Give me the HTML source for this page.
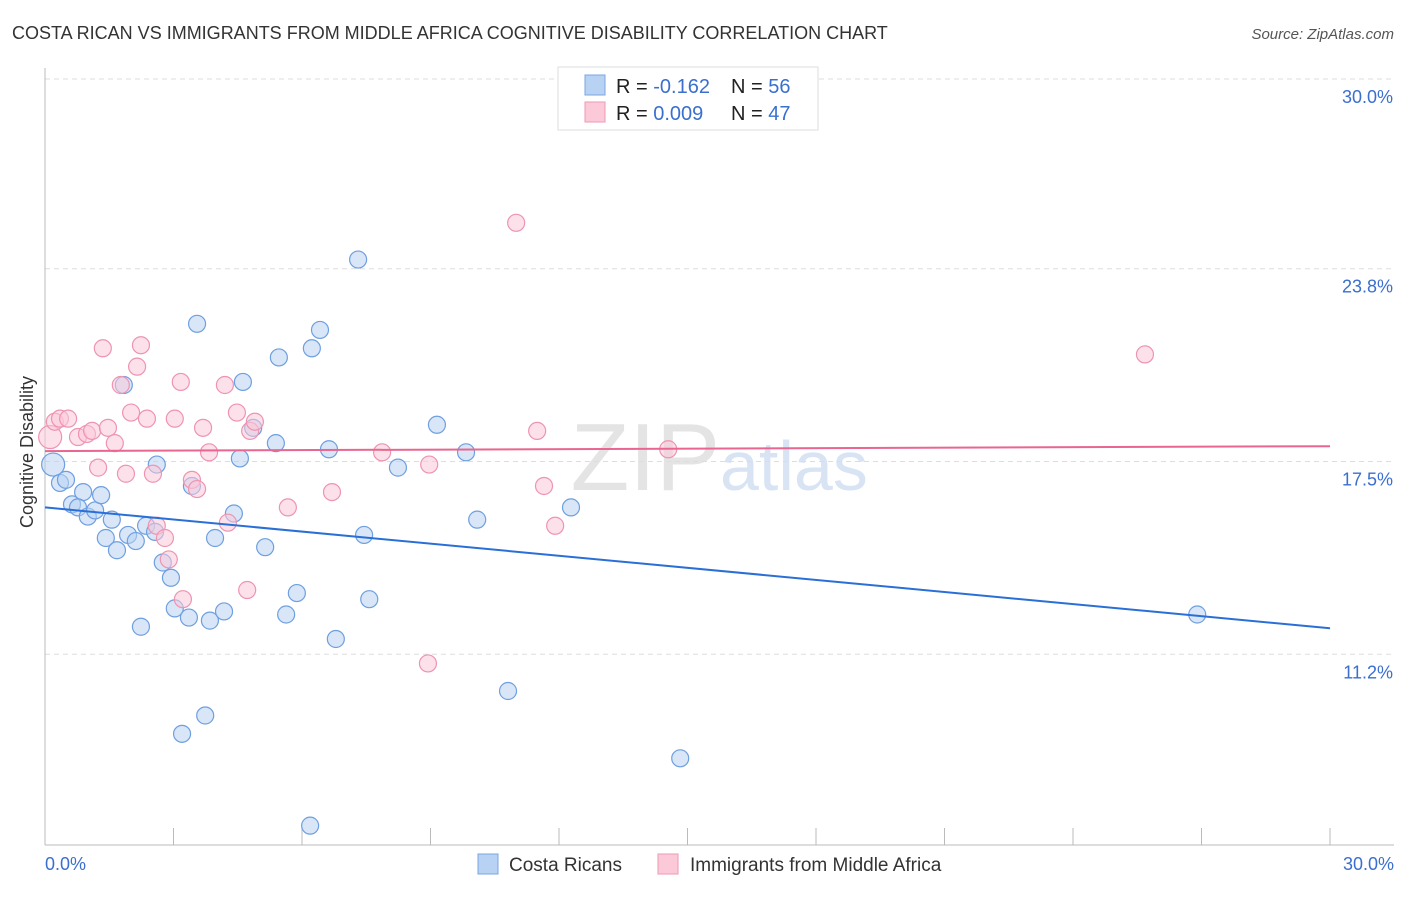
<!DOCTYPE html>
<html><head><meta charset="utf-8"><style>
body{margin:0;background:#fff;font-family:"Liberation Sans",sans-serif;}
svg text{font-family:"Liberation Sans",sans-serif;}
</style></head><body>
<svg id="chart" width="1406" height="892" xmlns="http://www.w3.org/2000/svg">
<text x="12" y="39" font-size="18" fill="#333">COSTA RICAN VS IMMIGRANTS FROM MIDDLE AFRICA COGNITIVE DISABILITY CORRELATION CHART</text>
<text x="1394" y="39" font-size="15" fill="#555" font-style="italic" text-anchor="end">Source: ZipAtlas.com</text>
<text x="720" y="490" font-size="96" fill="#e4e4e4" text-anchor="end" font-family="Liberation Serif">ZIP</text>
<text x="720" y="490" font-size="70" fill="#d8e4f4">atlas</text>
<g id="grid"></g><g id="marks"></g>
<text x="37" y="456" font-size="18" fill="#333" text-anchor="middle" transform="rotate(-90 33 456)">Cognitive Disability</text>
<text x="45" y="870" font-size="18" fill="#3a6fd0">0.0%</text>
<text x="1394" y="870" font-size="18" fill="#3a6fd0" text-anchor="end">30.0%</text>
<g>
<rect x="478" y="854" width="20" height="20" fill="#b8d2f3" stroke="#7aa5e0"/>
<text x="509" y="871" font-size="19" fill="#333">Costa Ricans</text>
<rect x="658" y="854" width="20" height="20" fill="#fbc9d8" stroke="#ee9ab4"/>
<text x="690" y="871" font-size="19" fill="#333">Immigrants from Middle Africa</text>
</g>
<g>
<rect x="558" y="67" width="260" height="63" fill="#fff" stroke="#ddd"/>
<rect x="585" y="75" width="20" height="20" fill="#b8d2f3" stroke="#7aa5e0"/>
<rect x="585" y="102" width="20" height="20" fill="#fbc9d8" stroke="#ee9ab4"/>
<text x="616" y="93" font-size="20" fill="#222">R = <tspan fill="#3a6fd0">-0.162</tspan><tspan x="731">N = </tspan><tspan fill="#3a6fd0">56</tspan></text>
<text x="616" y="120" font-size="20" fill="#222">R = <tspan fill="#3a6fd0">0.009</tspan><tspan x="731">N = </tspan><tspan fill="#3a6fd0">47</tspan></text>
</g>
</svg>
<script>
const yTicks=[30.0,23.8,17.5,11.2];
const yTickLabels=["30.0%","23.8%","17.5%","11.2%"];
const xTicks=[0,3,6,9,12,15,18,21,24,27,30];
const blueX=[0.19,0.35,0.49,0.63,0.89,0.77,1.0,1.17,1.31,1.56,1.42,1.68,1.94,2.12,2.36,2.57,2.61,2.75,2.94,3.03,3.36,2.24,1.84,3.55,3.43,3.85,3.97,4.18,4.41,4.55,4.62,4.86,5.14,5.39,5.46,5.63,5.88,6.23,6.42,6.63,6.79,7.31,7.45,7.57,8.24,9.15,9.83,10.09,10.81,12.28,3.20,3.74,6.19,14.83,26.9];
const blueY=[17.4,16.8,16.9,16.1,16.5,16.0,15.7,15.9,16.4,15.6,15.0,14.6,15.1,14.9,15.4,15.2,17.4,14.2,13.7,12.7,12.4,12.1,20.0,22.0,16.7,12.3,15.0,12.6,15.8,17.6,20.1,18.6,14.7,18.1,20.9,12.5,13.2,21.2,21.8,17.9,11.7,24.1,15.1,13.0,17.3,18.7,17.8,15.6,10.0,16.0,8.6,9.2,5.6,7.8,12.5];
const pinkX=[0.12,0.23,0.35,0.54,0.77,0.98,1.10,1.47,1.63,1.24,1.35,1.77,1.89,2.01,2.15,2.24,2.38,2.52,2.61,2.80,2.89,3.03,3.17,3.22,3.43,3.55,3.69,3.83,4.20,4.27,4.48,4.72,4.79,4.90,5.67,6.70,7.87,8.97,8.94,11.0,11.49,11.65,11.91,14.55,25.68];
const pinkY=[18.3,18.8,18.9,18.9,18.3,18.4,18.5,18.6,18.1,17.3,21.2,20.0,17.1,19.1,20.6,21.3,18.9,17.1,15.4,15.0,14.3,18.9,20.1,13.0,16.9,16.6,18.6,17.8,20.0,15.5,19.1,13.3,18.5,18.8,16.0,16.5,17.8,17.4,10.9,25.3,18.5,16.7,15.4,17.9,21.0];
const blueTrend=[16.0,12.05];
const pinkTrend=[17.84,18.0];
const X=v=>45+v*(1285/30), Y=v=>79+(30-v)*30.6;
const ns="http://www.w3.org/2000/svg";
const grid=document.getElementById('grid'), marks=document.getElementById('marks');
function mk(tag,a,p){const e=document.createElementNS(ns,tag);for(const k in a)e.setAttribute(k,a[k]);p.appendChild(e);return e;}
yTicks.forEach((t,i)=>{
 const l=mk('line',{x1:45,x2:1394,y1:Y(t),y2:Y(t),stroke:'#ddd','stroke-dasharray':'5,4'},grid);
 
 
 const tx=mk('text',{x:1393,y:Y(t)+24,'font-size':18,fill:'#3a6fd0','text-anchor':'end'},grid);
 tx.textContent=yTickLabels[i];
 
 
});
const ax=mk('line',{x1:45,x2:45,y1:68,y2:845,stroke:'#bbb'},grid);


const bx=mk('line',{x1:45,x2:1394,y1:845,y2:845,stroke:'#bbb'},grid);


xTicks.forEach(t=>{const l=mk('line',{x1:X(t),x2:X(t),y1:828,y2:845,stroke:'#bbb'},grid);
 
 });
function pts(xs,ys,fill,stroke,name){xs.forEach((x,i)=>{
 const c=mk('circle',{cx:X(x),cy:Y(ys[i]),r:(i==0?11.5:8.5),fill:fill,'fill-opacity':0.55,stroke:stroke,'stroke-width':1.2},marks);
 
 });}
pts(blueX,blueY,'#b8d2f3','#6e9fe0','costa-rican-point');
pts(pinkX,pinkY,'#fbc9d8','#ee94b0','middle-africa-point');
const bl=mk('line',{x1:X(0),y1:Y(blueTrend[0]),x2:X(30),y2:Y(blueTrend[1]),stroke:'#2a6fd6','stroke-width':2},marks);


const pl=mk('line',{x1:X(0),y1:Y(pinkTrend[0]),x2:X(30),y2:Y(pinkTrend[1]),stroke:'#e8668f','stroke-width':2},marks);


</script>
</body></html>
